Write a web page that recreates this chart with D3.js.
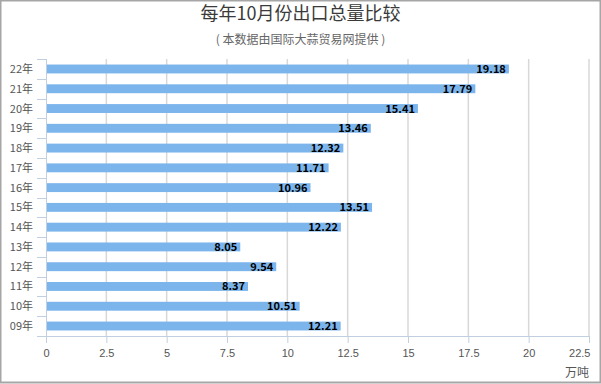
<!DOCTYPE html>
<html>
<head>
<meta charset="utf-8">
<script src="https://cdn.jsdelivr.net/npm/d3@7"></script>
<style>
  body { margin: 0; background: #fff; }
  svg { display: block; font-family: "Noto Sans CJK SC", "Noto Sans", sans-serif; }
</style>
</head>
<body>
<div id="chart"></div>
<script>
var width = 601;
var height = 384;

// 年份 (从上到下)
var years = ['22年', '21年', '20年', '19年', '18年', '17年', '16年', '15年', '14年', '13年', '12年', '11年', '10年', '09年'];
// 出口总量 (万吨)
var amounts = [19.18, 17.79, 15.41, 13.46, 12.32, 11.71, 10.96, 13.51, 12.22, 8.05, 9.54, 8.37, 10.51, 12.21];
var xTicks = [0, 2.5, 5, 7.5, 10, 12.5, 15, 17.5, 20, 22.5];

var margin = { top: 59, right: 12, bottom: 48, left: 46 };

var svg = d3.select('#chart')
    .append('svg')
    .attr('width', width)
    .attr('height', height);

// 外框
svg.append('rect')
    .attr('x', 0.5).attr('y', 0.5)
    .attr('width', width - 1).attr('height', height - 2)
    .attr('fill', '#fff')
    .attr('stroke', '#a6a6a6')
    .attr('stroke-width', 2);

// 标题
svg.append('text')
    .attr('x', width / 2).attr('y', 20)
    .attr('text-anchor', 'middle')
    .attr('font-size', 18)
    .attr('fill', '#3a3a3a')
    .text('每年10月份出口总量比较');

svg.append('text')
    .attr('x', width / 2).attr('y', 44)
    .attr('text-anchor', 'middle')
    .attr('font-size', 12)
    .attr('fill', '#666')
    .text('( 本数据由国际大蒜贸易网提供 )');

var x = d3.scaleLinear()
    .domain([0, 22.5])
    .range([margin.left, width - margin.right]);

var y = d3.scaleBand()
    .domain(years)
    .range([margin.top, height - margin.bottom])
    .paddingInner(0.55)
    .paddingOuter(0.28);

var bottom = height - margin.bottom;

// 网格线
svg.append('g')
    .selectAll('line')
    .data(xTicks.slice(1))
    .enter()
    .append('line')
    .attr('x1', d => x(d)).attr('x2', d => x(d))
    .attr('y1', margin.top).attr('y2', bottom)
    .attr('stroke', '#d8d8d8')
    .attr('stroke-width', 1.5);

// 柱子
svg.append('g')
    .selectAll('rect')
    .data(amounts)
    .enter()
    .append('rect')
    .attr('x', x(0))
    .attr('y', (d, i) => y(years[i]))
    .attr('width', d => x(d) - x(0))
    .attr('height', y.bandwidth())
    .attr('fill', '#7cb5ec');

// 数值标签
svg.append('g')
    .selectAll('text')
    .data(amounts)
    .enter()
    .append('text')
    .attr('x', d => x(d) - 3)
    .attr('y', (d, i) => y(years[i]) + y.bandwidth() / 2 + 4)
    .attr('text-anchor', 'end')
    .attr('font-size', 11)
    .attr('font-weight', 'bold')
    .attr('fill', '#000')
    .text(d => d.toFixed(2));

// x轴
var xAxis = svg.append('g')
    .attr('transform', 'translate(0,' + bottom + ')')
    .call(d3.axisBottom(x).tickValues(xTicks).tickSize(7).tickPadding(6).tickFormat(d => d));
xAxis.select('.domain').attr('stroke', '#c0d0e0');
xAxis.selectAll('.tick line').attr('stroke', '#c0d0e0');
xAxis.selectAll('text').attr('fill', '#555').attr('font-size', 11);
// 最后一个刻度标签靠右对齐，避免超出
xAxis.selectAll('.tick').filter(d => d === 22.5).select('text').attr('text-anchor', 'end').attr('dx', 1);

// y轴: 刻度位于类别之间
var yAxis = svg.append('g');
yAxis.append('line')
    .attr('x1', x(0) + 0.5).attr('x2', x(0) + 0.5)
    .attr('y1', margin.top).attr('y2', bottom)
    .attr('stroke', '#c0d0e0');
yAxis.selectAll('.ytick')
    .data(d3.range(years.length + 1))
    .enter()
    .append('line')
    .attr('x1', x(0) - 9).attr('x2', x(0))
    .attr('y1', i => Math.round(margin.top + i * (bottom - margin.top) / years.length) + 0.5)
    .attr('y2', i => Math.round(margin.top + i * (bottom - margin.top) / years.length) + 0.5)
    .attr('stroke', '#c0d0e0');
yAxis.selectAll('.ylabel')
    .data(years)
    .enter()
    .append('text')
    .attr('x', x(0) - 13)
    .attr('y', d => y(d) + y.bandwidth() / 2 + 4)
    .attr('text-anchor', 'end')
    .attr('font-size', 11)
    .attr('fill', '#555')
    .text(d => d);

// 单位
svg.append('text')
    .attr('x', x(22.5))
    .attr('y', 377)
    .attr('text-anchor', 'end')
    .attr('font-size', 12)
    .attr('fill', '#555')
    .text('万吨');
</script>
</body>
</html>
